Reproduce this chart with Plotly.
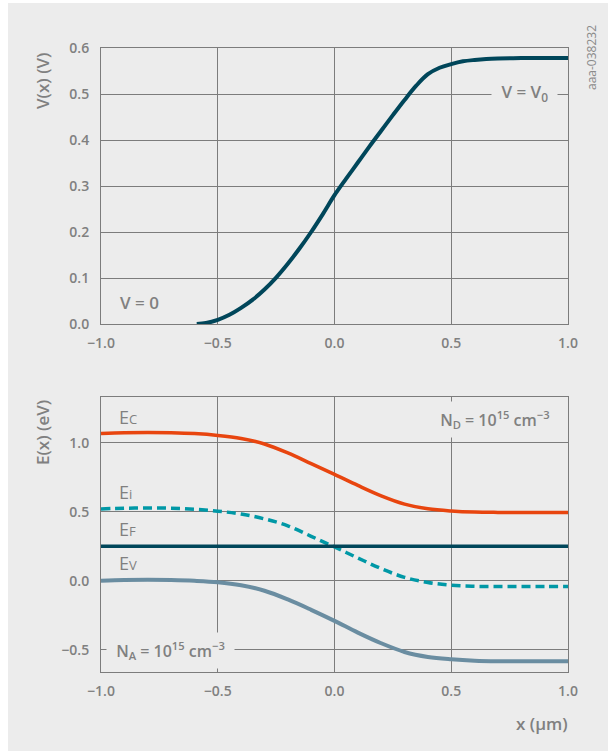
import plotly.graph_objects as go

# ---- data ----
x_v = [-0.59, -0.55, -0.5, -0.45, -0.4, -0.35, -0.3, -0.25, -0.2, -0.15, -0.1, -0.05,
       0.0, 0.05, 0.1, 0.15, 0.2, 0.25, 0.3, 0.35, 0.4, 0.45, 0.5, 0.55, 0.6, 0.65, 0.7,
       0.8, 0.9, 1.0]
v_x = [0.0, 0.002, 0.009, 0.020, 0.035, 0.053, 0.075, 0.101, 0.131, 0.164, 0.200, 0.239,
       0.280, 0.316, 0.351, 0.386, 0.420, 0.454, 0.487, 0.518, 0.543, 0.557, 0.565, 0.571,
       0.574, 0.576, 0.577, 0.578, 0.578, 0.578]

x_e = [-1.0, -0.9, -0.8, -0.7, -0.6, -0.5, -0.4, -0.3, -0.2, -0.1, 0.0, 0.1, 0.2, 0.3,
       0.4, 0.5, 0.6, 0.7, 0.8, 0.9, 1.0]
e_c = [1.066, 1.071, 1.073, 1.071, 1.065, 1.052, 1.030, 0.990, 0.925, 0.848, 0.770,
       0.690, 0.615, 0.555, 0.521, 0.505, 0.497, 0.495, 0.495, 0.495, 0.495]
e_i = [0.520, 0.525, 0.527, 0.525, 0.518, 0.504, 0.483, 0.448, 0.398, 0.322, 0.245,
       0.165, 0.088, 0.025, -0.012, -0.032, -0.040, -0.041, -0.041, -0.041, -0.041]
e_f = [0.25] * len(x_e)
e_v = [0.0, 0.005, 0.007, 0.005, 0.0, -0.010, -0.032, -0.072, -0.135, -0.210, -0.290,
       -0.375, -0.452, -0.515, -0.551, -0.568, -0.578, -0.582, -0.583, -0.583, -0.583]

x_ticks = [-1.0, -0.5, 0.0, 0.5, 1.0]
v_ticks = [0.0, 0.1, 0.2, 0.3, 0.4, 0.5, 0.6]
e_ticks = [-0.5, 0.0, 0.5, 1.0]

def fmt(t):
    s = f"{abs(t):.1f}"
    return ("\u2212" + s) if t < 0 else s

# ---- style ----
BG = "#ececec"
GRID = "#7c7c7c"
TXT = "#808080"
NAVY = "#00465a"
FONT = "Open Sans"

W, H = 608, 751
L, R, T, B = 101, 40, 48, 79
PW, PH = W - L - R, H - T - B

def px(x):
    return (x - L) / PW

def py(y):
    return (H - B - y) / PH

fig = go.Figure()
fig.add_trace(go.Scatter(x=x_v, y=v_x, mode="lines", line=dict(color=NAVY, width=4, shape="spline"),
                         xaxis="x", yaxis="y", showlegend=False, hoverinfo="skip"))
fig.add_trace(go.Scatter(x=x_e, y=e_c, mode="lines", line=dict(color="#e8450f", width=3.5, shape="spline"),
                         xaxis="x2", yaxis="y2", showlegend=False, hoverinfo="skip"))
fig.add_trace(go.Scatter(x=x_e, y=e_i, mode="lines",
                         line=dict(color="#0098a6", width=3.5, shape="spline", dash="9px,5px"),
                         xaxis="x2", yaxis="y2", showlegend=False, hoverinfo="skip"))
fig.add_trace(go.Scatter(x=x_e, y=e_f, mode="lines", line=dict(color=NAVY, width=3.5),
                         xaxis="x2", yaxis="y2", showlegend=False, hoverinfo="skip"))
fig.add_trace(go.Scatter(x=x_e, y=e_v, mode="lines", line=dict(color="#6a8da1", width=4, shape="spline"),
                         xaxis="x2", yaxis="y2", showlegend=False, hoverinfo="skip"))

tickfont = dict(family=FONT, size=14, color=TXT, weight=600)
axcommon = dict(showgrid=True, gridcolor=GRID, gridwidth=1, showline=True, linecolor=GRID,
                linewidth=1, mirror=True, zeroline=False, ticks="", tickfont=tickfont)

top_dom = [py(324), 1.0]
bot_dom = [0.0, py(397)]

fig.update_layout(
    width=W, height=H,
    margin=dict(l=L, r=R, t=T, b=B, pad=0),
    paper_bgcolor="white",
    plot_bgcolor="rgba(0,0,0,0)",
    xaxis=dict(axcommon, domain=[0, 1], range=[-1.0, 1.0], anchor="y",
               tickvals=x_ticks, ticktext=[fmt(t) for t in x_ticks], ticklabelstandoff=6),
    yaxis=dict(axcommon, domain=top_dom, range=[0.0, 0.6], anchor="x",
               tickvals=v_ticks, ticktext=[fmt(t) for t in v_ticks], ticklabelstandoff=8),
    xaxis2=dict(axcommon, domain=[0, 1], range=[-1.0, 1.0], anchor="y2",
                tickvals=x_ticks, ticktext=[fmt(t) for t in x_ticks], ticklabelstandoff=6),
    yaxis2=dict(axcommon, domain=bot_dom, range=[-0.66, 1.33], anchor="x2",
                tickvals=e_ticks, ticktext=[fmt(t) for t in e_ticks], ticklabelstandoff=8),
    shapes=[dict(type="rect", xref="paper", yref="paper", x0=px(8), x1=px(W + 5),
                 y0=py(H + 5), y1=py(3), fillcolor=BG, line=dict(width=0), layer="below")],
)

ann = []
def add(text, x, y, size=17, weight=600, xanchor="center", yanchor="middle", angle=0,
        bg=None, pad=0, color=TXT):
    d = dict(text=text, x=px(x), y=py(y), xref="paper", yref="paper", showarrow=False,
             xanchor=xanchor, yanchor=yanchor, textangle=angle,
             font=dict(family=FONT, size=size, color=color, weight=weight), borderpad=pad)
    if bg:
        d["bgcolor"] = bg
    ann.append(d)

def small(t):
    return '<span style="font-size:13px">' + t + '</span>'

NB = "\u00a0"
add("V(x) (V)", 42, 80, size=17, angle=-90)
add("E(x) (eV)", 42, 432, size=17, angle=-90)
add("x (\u03bcm)", 542, 723, size=17)
add("aaa-038232", 591, 58, size=12, weight=400, angle=-90, color="#8a8a8a")
add(NB + "V = V<sub>0</sub>" + NB, 524, 93, size=17, bg=BG, pad=5)
add("V = 0", 119, 302, size=17, xanchor="left")
add(NB + "N<sub>D</sub> = 10<sup>15</sup> cm<sup>\u22123</sup>" + NB, 560, 419, size=16,
    xanchor="right", bg=BG, pad=5)
add(NB + "N<sub>A</sub> = 10<sup>15</sup> cm<sup>\u22123</sup>" + NB, 106, 650, size=16,
    xanchor="left", bg=BG, pad=5)
add("E" + small("C"), 118, 417, size=18, weight=400, xanchor="left")
add("E" + small("i"), 118, 492, size=18, weight=400, xanchor="left")
add("E" + small("F"), 118, 529, size=18, weight=400, xanchor="left")
add("E" + small("V"), 118, 563, size=18, weight=400, xanchor="left")
fig.update_layout(annotations=ann)

fig.write_html("out.html")
